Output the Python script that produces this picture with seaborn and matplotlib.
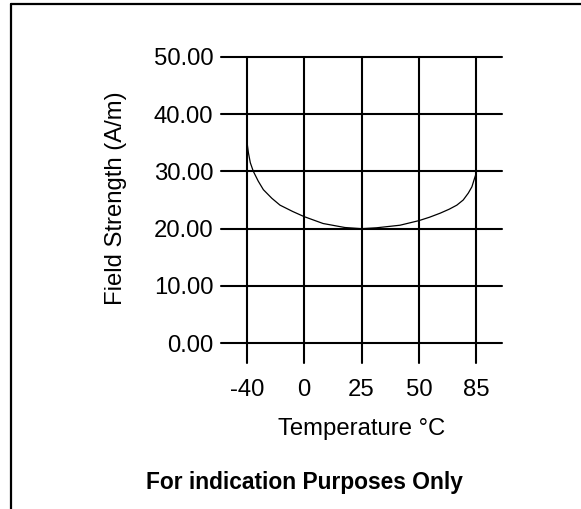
import numpy as np
import pandas as pd
import matplotlib
matplotlib.use("Agg")
import matplotlib.pyplot as plt
from matplotlib.lines import Line2D
import seaborn as sns

# tick categories on the x axis (evenly spaced in the original)
temp_ticks = [-40, 0, 25, 50, 85]
field_ticks = [0, 10, 20, 30, 40, 50]

# curve
curve_temp = [-40, -39.5, -38.8, -37.5, -35.4, -32.0, -28.4, -22.5, -16.8, -8.0, 0,
              8.25, 17.75, 25, 31.5, 41.75, 50, 56.5, 62.95, 68.5, 73.1,
              77.0, 80.1, 82.3, 83.6, 84.5, 85]
curve_field = [36.0, 34.5, 33.2, 31.5, 30.0, 28.3, 26.8, 25.3, 24.1, 23.0, 22.1,
               20.9, 20.2, 20.0, 20.15, 20.6, 21.4, 22.0, 22.7, 23.4, 24.1,
               25.0, 26.2, 27.3, 28.5, 29.3, 30.0]

sns.set_style("white")
plt.rcParams['font.family'] = ['Liberation Sans', 'DejaVu Sans']

df = pd.DataFrame({
    'pos': np.interp(curve_temp, temp_ticks, range(len(temp_ticks))),
    'field': curve_field,
})

fig = plt.figure(figsize=(5.81, 5.09), dpi=100)
ax = fig.add_axes([0.3804, 0.2868, 0.4837, 0.6018])

sns.lineplot(data=df, x='pos', y='field', color='black', linewidth=0.9,
             sort=False, ax=ax, zorder=3)

ax.set_xlim(-0.448, 4.448)
ax.set_ylim(-3.44, 50)
ax.set_xticks(range(len(temp_ticks)))
ax.set_xticklabels([str(t) for t in temp_ticks])
ax.set_yticks(field_ticks)
ax.set_yticklabels(['%.2f' % v for v in field_ticks])
ax.grid(True, color='black', linewidth=1.5)
for line in ax.get_xgridlines() + ax.get_ygridlines():
    line.set_clip_on(False)
for s in ax.spines.values():
    s.set_visible(False)
ax.tick_params(axis='both', length=0, labelsize=17.2, colors='black')
ax.tick_params(axis='x', pad=11.5)
ax.tick_params(axis='y', pad=5.5)

ax.set_xlabel('Temperature °C', fontsize=17.2, color='black', labelpad=12)
ax.set_ylabel('Field Strength (A/m)', fontsize=17.2, color='black')
ax.yaxis.set_label_coords(-0.334, 0.539)

fig.text(304 / 581, 1 - 483 / 509, 'For indication Purposes Only',
         fontsize=16.4, fontweight='bold', color='black', ha='center', va='center')

# frame on the left and top only
fig.add_artist(Line2D([11 / 581, 11 / 581], [0, 1 - 4 / 509], color='black', linewidth=1.6))
fig.add_artist(Line2D([11 / 581, 1], [1 - 4 / 509, 1 - 4 / 509], color='black', linewidth=1.6))

fig.savefig('out.png', dpi=100)
